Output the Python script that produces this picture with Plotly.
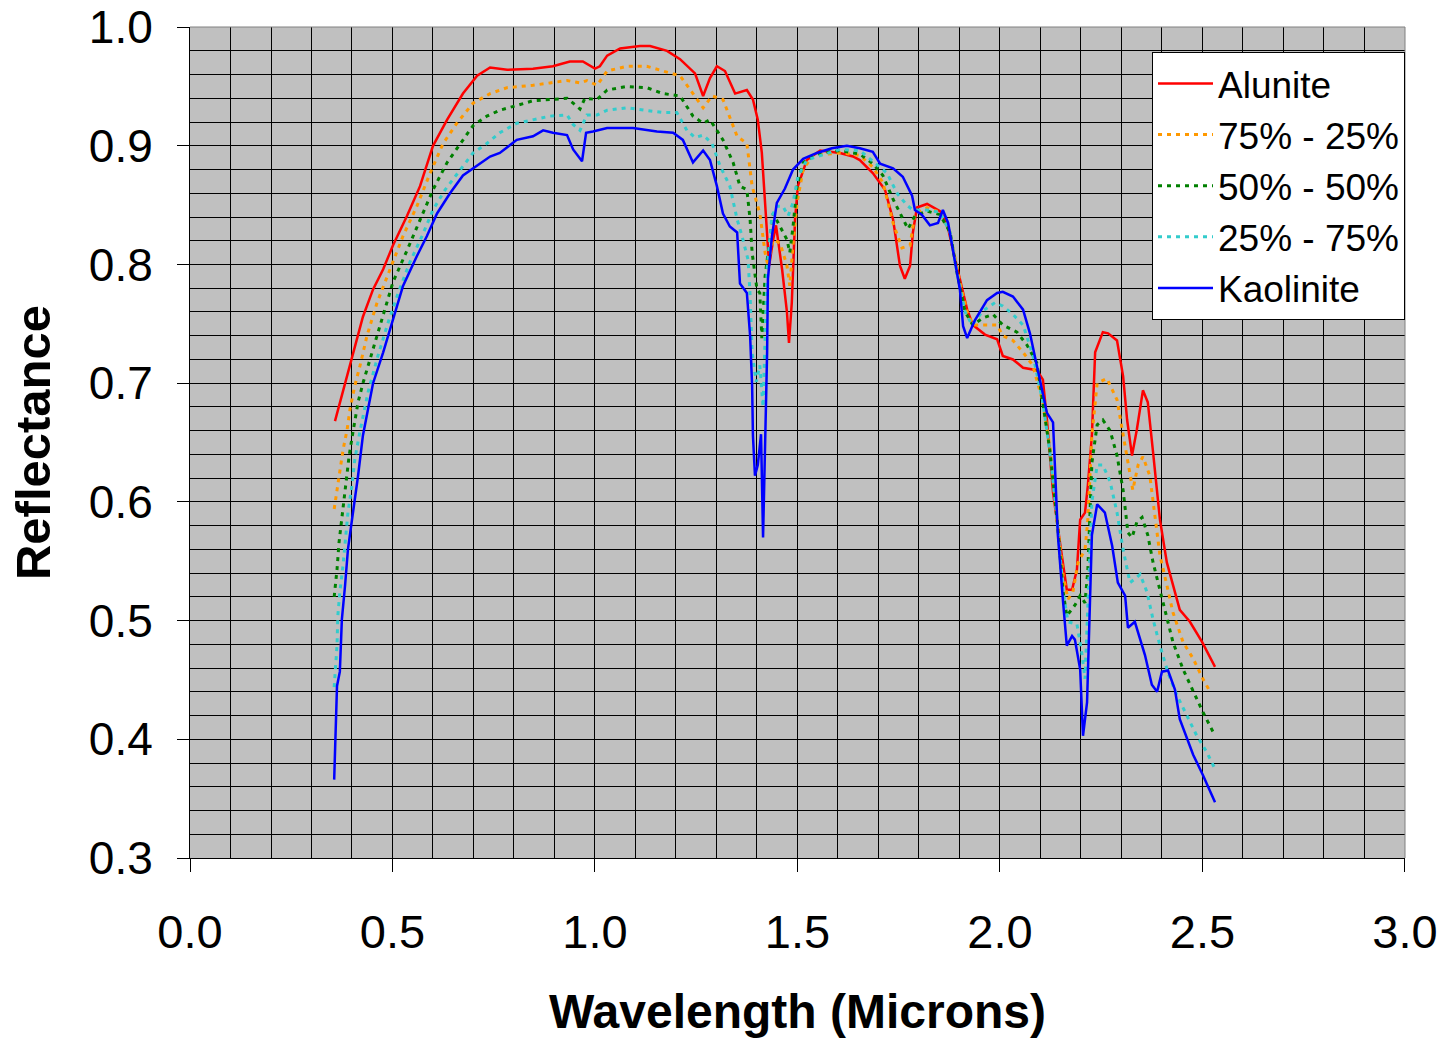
import plotly.graph_objects as go

# ---- data (wavelength in microns, reflectance) ----
alunite_wl = [0.358,0.383,0.402,0.427,0.452,0.477,0.501,0.536,0.568,0.600,0.635,0.674,0.709,0.741,0.783,0.847,0.896,0.938,0.970,1.000,1.012,1.030,1.062,1.111,1.136,1.178,1.210,1.247,1.267,1.284,1.301,1.321,1.346,1.375,1.390,1.402,1.412,1.420,1.425,1.430,1.440,1.447,1.462,1.474,1.479,1.486,1.494,1.501,1.523,1.556,1.605,1.637,1.654,1.686,1.716,1.736,1.753,1.765,1.778,1.785,1.795,1.820,1.852,1.869,1.884,1.901,1.919,1.933,1.963,1.993,2.007,2.032,2.057,2.091,2.106,2.116,2.131,2.148,2.165,2.178,2.190,2.198,2.210,2.217,2.227,2.235,2.254,2.267,2.289,2.304,2.314,2.326,2.338,2.353,2.365,2.378,2.395,2.412,2.444,2.469,2.499,2.531]
alunite_r = [0.668,0.700,0.725,0.756,0.779,0.796,0.816,0.841,0.866,0.900,0.922,0.944,0.959,0.966,0.964,0.965,0.967,0.971,0.971,0.965,0.967,0.976,0.982,0.984,0.984,0.980,0.973,0.961,0.942,0.957,0.967,0.963,0.944,0.947,0.939,0.922,0.894,0.852,0.821,0.799,0.821,0.833,0.796,0.760,0.734,0.768,0.838,0.866,0.888,0.896,0.894,0.891,0.888,0.877,0.863,0.838,0.799,0.788,0.799,0.827,0.848,0.851,0.845,0.835,0.812,0.787,0.762,0.749,0.741,0.737,0.723,0.720,0.713,0.711,0.703,0.669,0.608,0.566,0.526,0.526,0.543,0.585,0.591,0.614,0.656,0.726,0.743,0.742,0.736,0.706,0.669,0.639,0.661,0.694,0.684,0.642,0.585,0.549,0.509,0.499,0.482,0.461]

mix75_wl = [0.356,0.365,0.378,0.388,0.395,0.407,0.420,0.437,0.462,0.494,0.526,0.560,0.593,0.625,0.659,0.699,0.741,0.783,0.847,0.889,0.931,0.963,0.980,1.005,1.030,1.079,1.128,1.168,1.210,1.242,1.267,1.289,1.316,1.351,1.375,1.388,1.407,1.420,1.427,1.440,1.457,1.474,1.481,1.489,1.499,1.514,1.538,1.605,1.654,1.686,1.711,1.736,1.758,1.778,1.790,1.820,1.852,1.877,1.901,1.919,1.933,1.968,1.993,2.007,2.032,2.057,2.081,2.106,2.123,2.141,2.156,2.168,2.180,2.193,2.210,2.217,2.227,2.240,2.264,2.289,2.304,2.316,2.328,2.341,2.353,2.370,2.383,2.395,2.412,2.427,2.452,2.477,2.501,2.519]
mix75_r = [0.594,0.614,0.644,0.661,0.678,0.698,0.715,0.740,0.768,0.796,0.824,0.849,0.877,0.902,0.919,0.936,0.944,0.949,0.951,0.953,0.955,0.953,0.955,0.951,0.963,0.967,0.967,0.963,0.959,0.944,0.932,0.942,0.939,0.908,0.902,0.866,0.843,0.810,0.799,0.821,0.818,0.799,0.782,0.816,0.852,0.880,0.892,0.894,0.892,0.882,0.869,0.835,0.814,0.816,0.843,0.848,0.844,0.827,0.785,0.760,0.749,0.749,0.749,0.740,0.736,0.726,0.715,0.684,0.647,0.585,0.538,0.518,0.524,0.549,0.560,0.585,0.656,0.700,0.704,0.686,0.656,0.631,0.610,0.631,0.638,0.622,0.585,0.555,0.530,0.507,0.482,0.468,0.451,0.440]

mix50_wl = [0.356,0.360,0.363,0.368,0.378,0.385,0.393,0.402,0.415,0.427,0.452,0.477,0.501,0.536,0.568,0.600,0.635,0.667,0.699,0.733,0.765,0.807,0.847,0.889,0.931,0.946,0.963,0.975,1.005,1.030,1.079,1.128,1.168,1.210,1.242,1.267,1.284,1.316,1.341,1.358,1.375,1.383,1.388,1.400,1.407,1.412,1.420,1.440,1.457,1.474,1.481,1.489,1.499,1.514,1.556,1.605,1.654,1.686,1.711,1.736,1.758,1.773,1.790,1.820,1.852,1.877,1.894,1.914,1.933,1.958,1.983,2.007,2.042,2.067,2.091,2.106,2.123,2.141,2.156,2.165,2.185,2.198,2.210,2.217,2.227,2.240,2.254,2.272,2.289,2.304,2.316,2.326,2.338,2.351,2.365,2.378,2.395,2.412,2.427,2.452,2.477,2.501,2.531]
mix50_r = [0.520,0.532,0.543,0.566,0.597,0.619,0.639,0.658,0.684,0.700,0.728,0.757,0.785,0.812,0.838,0.863,0.886,0.902,0.917,0.925,0.930,0.934,0.938,0.939,0.940,0.936,0.931,0.940,0.939,0.947,0.950,0.949,0.944,0.942,0.925,0.919,0.922,0.905,0.886,0.866,0.863,0.838,0.810,0.779,0.776,0.738,0.790,0.843,0.832,0.821,0.810,0.832,0.866,0.886,0.894,0.896,0.893,0.885,0.875,0.855,0.840,0.830,0.841,0.845,0.842,0.827,0.793,0.760,0.749,0.755,0.758,0.749,0.743,0.732,0.717,0.684,0.644,0.585,0.524,0.504,0.513,0.521,0.515,0.543,0.633,0.665,0.669,0.660,0.639,0.610,0.574,0.570,0.583,0.587,0.572,0.549,0.526,0.504,0.482,0.459,0.440,0.423,0.403]

mix25_wl = [0.356,0.360,0.363,0.365,0.370,0.378,0.383,0.390,0.400,0.407,0.420,0.440,0.464,0.489,0.514,0.543,0.573,0.600,0.630,0.667,0.699,0.733,0.765,0.807,0.847,0.889,0.931,0.946,0.963,0.980,1.005,1.030,1.079,1.128,1.168,1.202,1.227,1.247,1.267,1.289,1.309,1.333,1.351,1.363,1.378,1.383,1.388,1.398,1.407,1.415,1.425,1.437,1.449,1.464,1.477,1.489,1.501,1.523,1.605,1.654,1.686,1.721,1.746,1.770,1.785,1.820,1.852,1.877,1.894,1.914,1.931,1.958,1.988,2.007,2.032,2.057,2.081,2.106,2.123,2.141,2.156,2.168,2.190,2.202,2.210,2.217,2.227,2.240,2.254,2.272,2.289,2.304,2.321,2.333,2.346,2.363,2.378,2.395,2.415,2.437,2.462,2.486,2.511,2.531]
mix25_r = [0.444,0.462,0.479,0.504,0.524,0.547,0.563,0.591,0.614,0.636,0.660,0.693,0.723,0.751,0.776,0.802,0.824,0.846,0.863,0.880,0.894,0.902,0.911,0.919,0.922,0.925,0.926,0.918,0.913,0.926,0.926,0.930,0.932,0.930,0.928,0.928,0.913,0.907,0.909,0.902,0.883,0.866,0.838,0.824,0.804,0.774,0.726,0.701,0.715,0.680,0.796,0.841,0.849,0.849,0.841,0.852,0.874,0.888,0.897,0.896,0.887,0.877,0.860,0.850,0.846,0.846,0.844,0.827,0.793,0.760,0.749,0.761,0.768,0.765,0.758,0.749,0.724,0.684,0.642,0.585,0.524,0.499,0.497,0.473,0.451,0.515,0.600,0.631,0.631,0.617,0.591,0.560,0.532,0.535,0.539,0.524,0.501,0.479,0.456,0.437,0.420,0.403,0.389,0.375]

kaolinite_wl = [0.356,0.363,0.370,0.375,0.383,0.390,0.400,0.407,0.415,0.427,0.437,0.452,0.477,0.501,0.526,0.560,0.585,0.610,0.642,0.674,0.709,0.741,0.765,0.807,0.847,0.872,0.896,0.931,0.946,0.968,0.978,0.995,1.030,1.094,1.153,1.193,1.217,1.242,1.267,1.284,1.301,1.316,1.333,1.351,1.358,1.375,1.383,1.388,1.390,1.395,1.402,1.410,1.415,1.420,1.425,1.427,1.437,1.449,1.469,1.489,1.514,1.548,1.585,1.622,1.654,1.686,1.704,1.736,1.760,1.783,1.790,1.807,1.827,1.847,1.859,1.872,1.884,1.901,1.909,1.919,1.938,1.968,1.993,2.007,2.032,2.057,2.074,2.091,2.116,2.131,2.136,2.143,2.156,2.165,2.178,2.185,2.198,2.205,2.215,2.227,2.240,2.259,2.277,2.291,2.309,2.316,2.333,2.358,2.375,2.388,2.400,2.415,2.432,2.444,2.477,2.501,2.531]
kaolinite_r = [0.366,0.445,0.457,0.501,0.530,0.560,0.585,0.602,0.622,0.656,0.675,0.700,0.726,0.754,0.782,0.807,0.824,0.843,0.860,0.875,0.883,0.891,0.894,0.905,0.908,0.913,0.911,0.909,0.897,0.887,0.911,0.912,0.915,0.915,0.912,0.911,0.905,0.886,0.896,0.888,0.866,0.843,0.832,0.827,0.784,0.776,0.740,0.698,0.656,0.622,0.631,0.657,0.570,0.642,0.726,0.788,0.824,0.852,0.864,0.880,0.889,0.894,0.898,0.900,0.898,0.895,0.885,0.881,0.874,0.858,0.846,0.842,0.833,0.835,0.846,0.835,0.812,0.779,0.748,0.738,0.753,0.770,0.776,0.777,0.773,0.762,0.742,0.716,0.675,0.667,0.627,0.572,0.515,0.479,0.487,0.484,0.459,0.403,0.431,0.572,0.598,0.591,0.563,0.532,0.521,0.494,0.499,0.471,0.446,0.440,0.457,0.458,0.442,0.417,0.387,0.370,0.347]

series_names = ["Alunite", "75% - 25%", "50% - 50%", "25% - 75%", "Kaolinite"]
x_tick_vals = [0.0, 0.5, 1.0, 1.5, 2.0, 2.5, 3.0]
y_tick_vals = [0.3, 0.4, 0.5, 0.6, 0.7, 0.8, 0.9, 1.0]

FONT = "Liberation Sans, Arial, sans-serif"

styles = [
    dict(color="#FF0000", width=2.5, dash="solid"),
    dict(color="#FF9900", width=3, dash="4px,5px"),
    dict(color="#008000", width=3, dash="4px,5px"),
    dict(color="#33CCCC", width=3, dash="4px,5px"),
    dict(color="#0000FF", width=2.5, dash="solid"),
]
data = [(alunite_wl, alunite_r), (mix75_wl, mix75_r), (mix50_wl, mix50_r),
        (mix25_wl, mix25_r), (kaolinite_wl, kaolinite_r)]

fig = go.Figure()
for name, (x, y), st in zip(series_names, data, styles):
    assert len(x) == len(y), name
    fig.add_trace(go.Scatter(x=x, y=y, mode="lines", name=name, line=st))

fig.update_layout(
    width=1443, height=1038,
    margin=dict(l=190, r=38, t=27, b=180, autoexpand=False),
    paper_bgcolor="white",
    plot_bgcolor="#C0C0C0",
    font=dict(family=FONT, color="black"),
    showlegend=True,
    legend=dict(
        x=1, xanchor="right", y=0.97, yanchor="top",
        bgcolor="white", bordercolor="black", borderwidth=1,
        font=dict(family=FONT, size=37, color="black"),
        itemwidth=55,
        tracegroupgap=0,
    ),
    xaxis=dict(
        range=[0, 3.0001],
        tickmode="array", tickvals=x_tick_vals,
        ticktext=[f"{v:.1f}" for v in x_tick_vals],
        showgrid=True, gridcolor="black", gridwidth=1,
        minor=dict(dtick=0.1, tick0=0, showgrid=True, gridcolor="black", gridwidth=1, ticks=""),
        ticks="outside", ticklen=13, tickcolor="black", tickwidth=1,
        showline=True, linecolor="black", linewidth=1,
        zeroline=False,
        tickfont=dict(family=FONT, size=47),
        ticklabelstandoff=20,
        ticklabeloverflow="allow",
        title=dict(text="Wavelength (Microns)", font=dict(family=FONT, size=48, weight="bold"), standoff=50),
        automargin=False,
    ),
    yaxis=dict(
        range=[0.3, 1.0001],
        tickmode="array", tickvals=y_tick_vals,
        ticktext=[f"{v:.1f}" for v in y_tick_vals],
        showgrid=True, gridcolor="black", gridwidth=1,
        minor=dict(dtick=0.02, tick0=0.3, showgrid=True, gridcolor="black", gridwidth=1, ticks=""),
        ticks="outside", ticklen=12, tickcolor="black", tickwidth=1,
        showline=True, linecolor="black", linewidth=1,
        zeroline=False,
        tickfont=dict(family=FONT, size=46),
        ticklabelstandoff=15,
        ticklabeloverflow="allow",
        title=dict(text="Reflectance", font=dict(family=FONT, size=49, weight="bold"), standoff=22),
        automargin=False,
    ),
    shapes=[dict(type="path", xref="paper", yref="paper", path="M 0,1 L 1,1 L 1,0",
                 line=dict(color="#808080", width=1), layer="above")],
)

fig.write_html("out.html")
